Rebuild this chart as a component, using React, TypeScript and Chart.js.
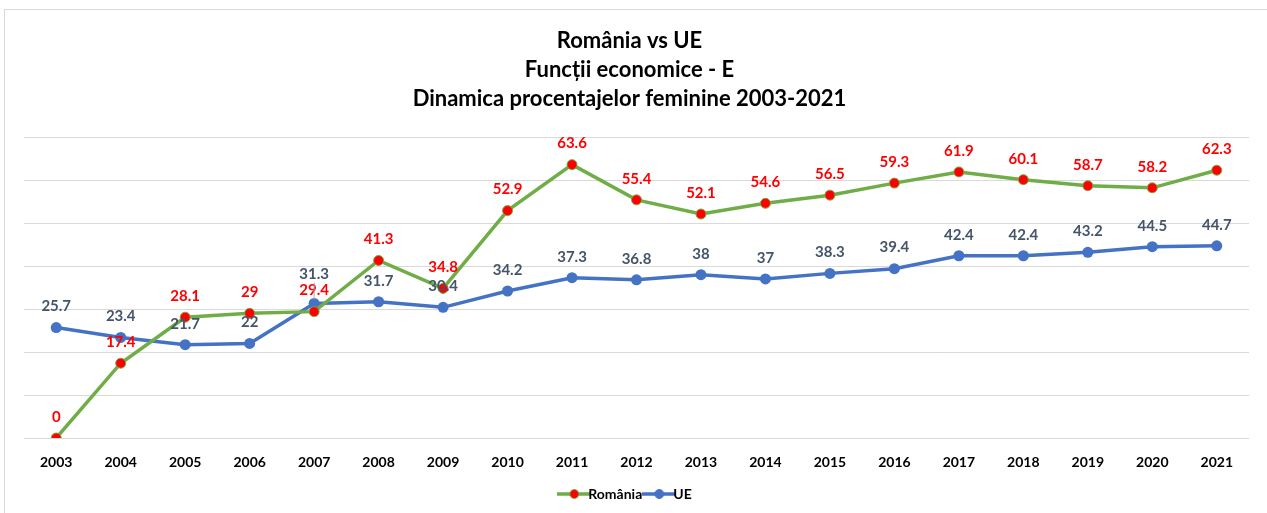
import React, { useEffect, useRef } from "react";
import { Chart, registerables } from "chart.js";

Chart.register(...registerables);

const years = ["2003","2004","2005","2006","2007","2008","2009","2010","2011","2012","2013","2014","2015","2016","2017","2018","2019","2020","2021"];
const romania = [0, 17.4, 28.1, 29, 29.4, 41.3, 34.8, 52.9, 63.6, 55.4, 52.1, 54.6, 56.5, 59.3, 61.9, 60.1, 58.7, 58.2, 62.3];
const ue = [25.7, 23.4, 21.7, 22, 31.3, 31.7, 30.4, 34.2, 37.3, 36.8, 38, 37, 38.3, 39.4, 42.4, 42.4, 43.2, 44.5, 44.7];
const titleLines = ["România vs UE", "Funcții economice - E", "Dinamica procentajelor feminine 2003-2021"];

const GREEN = "#70AD47";
const BLUE = "#4472C4";
const RED = "#FF0000";
const LABEL_DARK = "#44546A";
const FONT = "Lato, 'Open Sans', sans-serif";

function legendIcon(line: string, fill: string, border: string) {
  const c = document.createElement("canvas");
  c.width = 34;
  c.height = 12;
  const ctx = c.getContext("2d")!;
  ctx.strokeStyle = line;
  ctx.lineWidth = 3.5;
  ctx.beginPath();
  ctx.moveTo(0, 6);
  ctx.lineTo(34, 6);
  ctx.stroke();
  ctx.beginPath();
  ctx.arc(17, 6, 4.5, 0, Math.PI * 2);
  ctx.fillStyle = fill;
  ctx.fill();
  ctx.lineWidth = 1;
  ctx.strokeStyle = border;
  ctx.stroke();
  return c;
}

const labelPlugin = {
  id: "valueLabels",
  afterDatasetsDraw(chart: any) {
    const ctx = chart.ctx;
    ctx.save();
    ctx.font = `bold 15px ${FONT}`;
    ctx.textAlign = "center";
    ctx.textBaseline = "middle";
    chart.data.datasets.forEach((ds: any, di: number) => {
      const meta = chart.getDatasetMeta(di);
      meta.data.forEach((pt: any, i: number) => {
        const v = ds.data[i];
        let off = 21;
        if (di === 1 && i === 4) {
          off = 29;
          ctx.strokeStyle = "#A6A6A6";
          ctx.lineWidth = 1;
          ctx.beginPath();
          ctx.moveTo(pt.x, pt.y - off + 8);
          ctx.lineTo(pt.x, pt.y - 4);
          ctx.stroke();
        }
        ctx.fillStyle = di === 0 ? RED : LABEL_DARK;
        ctx.fillText(String(v), pt.x, pt.y - off);
      });
    });
    ctx.restore();
  },
};

export default function App() {
  const ref = useRef<HTMLCanvasElement>(null);
  useEffect(() => {
    const chart = new Chart(ref.current!, {
      type: "line",
      data: {
        labels: years,
        datasets: [
          {
            label: "România",
            data: romania,
            borderColor: GREEN,
            backgroundColor: GREEN,
            borderWidth: 3.5,
            pointRadius: 5,
            pointBackgroundColor: RED,
            pointBorderColor: GREEN,
            pointBorderWidth: 1,
            tension: 0,
          },
          {
            label: "UE",
            data: ue,
            borderColor: BLUE,
            backgroundColor: BLUE,
            borderWidth: 3.5,
            pointRadius: 5.5,
            pointBackgroundColor: BLUE,
            pointBorderColor: BLUE,
            pointBorderWidth: 0,
            tension: 0,
          },
        ],
      },
      options: {
        animation: false,
        responsive: true,
        maintainAspectRatio: false,
        layout: { padding: { top: 15, left: 10, right: 18, bottom: 2 } },
        plugins: {
          title: {
            display: true,
            text: titleLines,
            color: "#000",
            font: { family: FONT, size: 22, weight: "bold", lineHeight: 1.32 },
            padding: { top: 11, bottom: 24 },
          },
          legend: {
            position: "bottom",
            labels: {
              usePointStyle: true,
              color: "#000",
              font: { family: FONT, size: 14, weight: "bold" },
              padding: 10,
              generateLabels: () => [
                { text: "România", pointStyle: legendIcon(GREEN, RED, GREEN), fillStyle: GREEN, strokeStyle: GREEN, lineWidth: 0, datasetIndex: 0, hidden: false },
                { text: "UE", pointStyle: legendIcon(BLUE, BLUE, BLUE), fillStyle: BLUE, strokeStyle: BLUE, lineWidth: 0, datasetIndex: 1, hidden: false },
              ] as any,
            },
          },
          tooltip: { enabled: false },
        },
        scales: {
          x: {
            offset: true,
            grid: { display: false },
            border: { display: false },
            ticks: { color: "#000", font: { family: FONT, size: 14, weight: "bold" }, padding: 8, maxRotation: 0 },
            afterFit: (axis: any) => { axis.height = 39; },
          },
          y: {
            min: 0,
            max: 70,
            ticks: { stepSize: 10, display: false },
            grid: { color: "#D9D9D9", lineWidth: 1, drawTicks: false },
            border: { display: false },
            afterFit: (axis: any) => { axis.width = 14; },
          },
        },
      },
      plugins: [labelPlugin],
    });
    return () => chart.destroy();
  }, []);
  return (
    <div style={{ position: "fixed", left: 0, top: 0, width: 1267, height: 513, background: "#fff" }}>
      <div style={{ position: "absolute", left: 4, top: 9, width: 1280, height: 520, border: "1px solid #D9D9D9", boxSizing: "border-box" }} />
      <div style={{ position: "absolute", left: 0, top: 0, width: 1267, height: 513 }}>
        <canvas ref={ref} />
      </div>
    </div>
  );
}
